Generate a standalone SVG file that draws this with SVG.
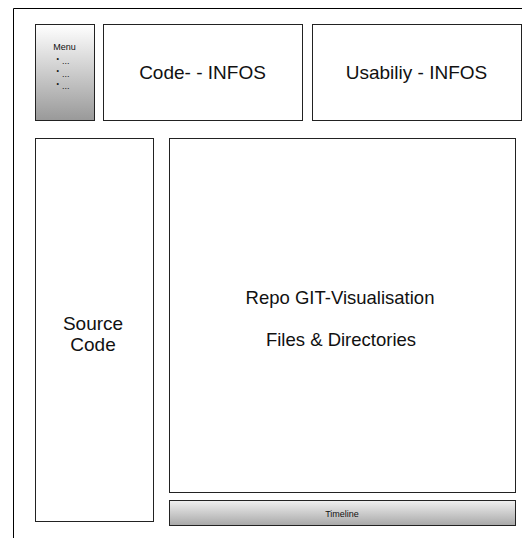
<svg xmlns="http://www.w3.org/2000/svg" width="522" height="538" viewBox="0 0 522 538">
<defs>
<linearGradient id="gMenu" x1="0" y1="0" x2="0" y2="1">
<stop offset="0" stop-color="#ffffff"/>
<stop offset="1" stop-color="#999999"/>
</linearGradient>
<linearGradient id="gTime" x1="0" y1="0" x2="0" y2="1">
<stop offset="0" stop-color="#f0f0f0"/>
<stop offset="1" stop-color="#a8a8a8"/>
</linearGradient>
<style>
.box{fill:#fff;stroke:#222;stroke-width:1}
.t{font-family:"Liberation Sans",Arial,sans-serif;fill:#111;text-anchor:middle}
.big{font-size:19px}
.mid{font-size:18.5px}
.small{font-size:9px}
.l{text-anchor:start}
</style>
</defs>
<rect width="522" height="538" fill="#fff"/>
<g id="frame">
<path d="M13.5,538 V8.5 H522" fill="none" stroke="#000" stroke-width="1"/>
</g>
<g id="connectors"/>
<g id="menu">
<rect x="35.5" y="24.5" width="59" height="96" fill="url(#gMenu)" stroke="#222"/>
<text class="t small" x="64.5" y="50">Menu</text>
<text class="t l" x="56.5" y="60.5" font-size="7">•</text>
<text class="t small l" x="62" y="64">...</text>
<text class="t l" x="56.5" y="73" font-size="7">•</text>
<text class="t small l" x="62" y="76.5">...</text>
<text class="t l" x="56.5" y="85.5" font-size="7">•</text>
<text class="t small l" x="62" y="89">...</text>
</g>
<g id="code-infos">
<rect class="box" x="103.5" y="24.5" width="199" height="96"/>
<text class="t big" x="202.5" y="78.5">Code- - INFOS</text>
</g>
<g id="usability-infos">
<rect class="box" x="312.5" y="24.5" width="209" height="96"/>
<text class="t big" x="416.5" y="78.5">Usabiliy - INFOS</text>
</g>
<g id="source-code">
<rect class="box" x="35.5" y="138.5" width="118" height="383"/>
<text class="t big" x="93" y="329.5">Source</text>
<text class="t big" x="93" y="351">Code</text>
</g>
<g id="repo">
<rect class="box" x="169.5" y="138.5" width="346" height="354"/>
<text class="t mid" x="340" y="304">Repo GIT-Visualisation</text>
<text class="t mid" x="341" y="346">Files &amp; Directories</text>
</g>
<g id="timeline">
<rect x="169.5" y="500.5" width="346" height="25" fill="url(#gTime)" stroke="#222"/>
<text class="t small" x="342" y="517">Timeline</text>
</g>
</svg>
